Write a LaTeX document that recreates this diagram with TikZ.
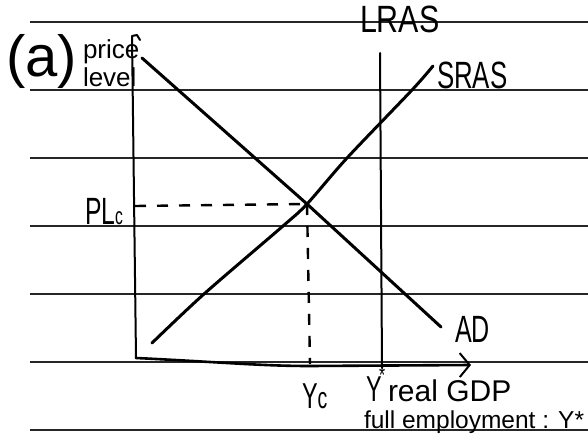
\documentclass[tikz,border=0pt]{standalone}
\usepackage{fontspec}
\setmainfont{Liberation Sans}
\usetikzlibrary{arrows.meta}
\begin{document}
\begin{tikzpicture}[x=1pt,y=-1pt,
  rule/.style={line width=1.6pt, draw=black!85},
  curve/.style={line width=3pt, line cap=round, line join=round},
  axisline/.style={line width=2pt, line cap=round, line join=round},
  guide/.style={line width=2.4pt, dash pattern=on 11pt off 11pt},
  hand/.style={inner sep=0pt, outer sep=0pt, anchor=base west, text=black},
]
\useasboundingbox (0,0) rectangle (588,438);
\fill[white] (0,0) rectangle (588,438);
% ruled paper lines
\foreach \y in {22,90,158,226,294,362,430} \draw[rule] (30,\y) -- (588,\y);

% key points
\coordinate (origin) at (136,358);
\coordinate (ytop) at (132,36);
\coordinate (xend) at (471,365);
\coordinate (E) at (307,204);
\coordinate (lrasTop) at (380,53);
\coordinate (lrasBot) at (382,368);
\coordinate (plAxis) at (135,206);
\coordinate (ycAxis) at (310,364);
\coordinate (adTop) at (142,58);
\coordinate (adBot) at (441,327);

% axes
\draw[axisline] (origin) -- (ytop) -- (137,35) -- (140,40);
\draw[line width=2.6pt, line cap=round, -{Straight Barb[length=10pt,width=24pt,line width=2pt]}]
  (origin) .. controls (220,362) and (260,366) .. (310,366) -- (xend);

% LRAS
\draw[axisline] (lrasTop) -- (lrasBot);

% SRAS
\draw[curve] plot[smooth, tension=0.5] coordinates {(152,343) (204,294) (283,226) (307,204) (347,158) (412,90) (433,66)};
% AD
\draw[curve] (adTop) -- (E) -- (adBot);

% dashed guides
\draw[guide] (plAxis) -- (E);
\draw[guide] (E) -- (ycAxis);

% labels
\node[hand, font=\fontsize{58}{58}\selectfont] (lblA) at (6,77) {(a)};
\node[hand, font=\fontsize{26}{26}\selectfont] (lblPrice) at (83,59) {price};
\node[hand, font=\fontsize{26}{26}\selectfont] (lblLevel) at (83,87) {level};
\node[hand, font=\fontsize{38}{38}\selectfont, xscale=0.8] (lblLRAS) at (360,33) {LRAS};
\node[hand, font=\fontsize{38}{38}\selectfont, xscale=0.68] (lblSRAS) at (437,89) {SRAS};
\node[hand, font=\fontsize{38}{38}\selectfont, xscale=0.66] (lblAD) at (455,342) {AD};
\node[hand, font=\fontsize{38}{38}\selectfont, xscale=0.65] (lblPL) at (85,224) {PL{\fontsize{24}{24}\selectfont c}};
\node[hand, font=\fontsize{36}{36}\selectfont, xscale=0.65] (lblYc) at (302,408) {Y{\fontsize{30}{30}\selectfont c}};
\node[hand, font=\fontsize{36}{36}\selectfont, xscale=0.65] (lblY) at (366,401) {Y\rlap{\kern-4pt\raisebox{18pt}{\fontsize{24}{24}\selectfont *}}};
\node[hand, font=\fontsize{30}{30}\selectfont] (lblGDP) at (388,401) {real GDP};
\node[hand, font=\fontsize{24.5}{24.5}\selectfont] (lblFull) at (364,428) {full employment : Y*};
\end{tikzpicture}
\end{document}
